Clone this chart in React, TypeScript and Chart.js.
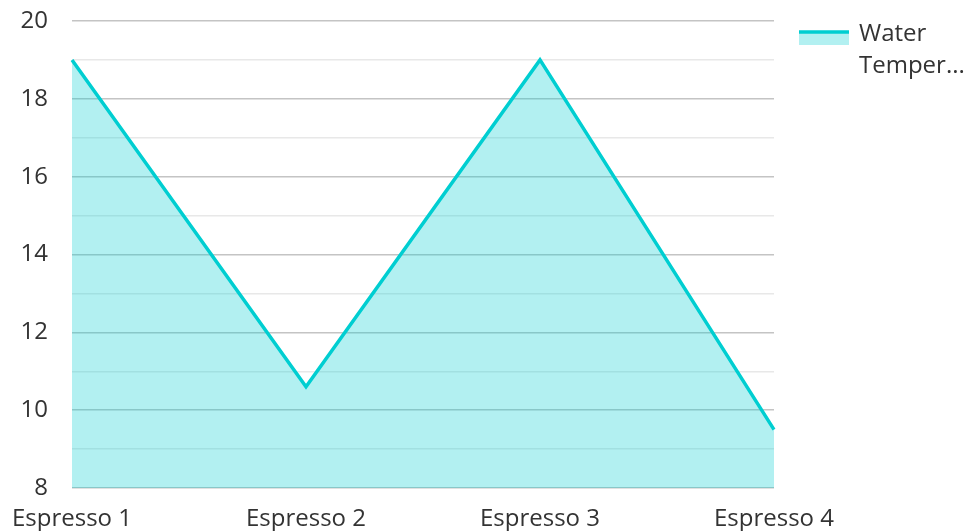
import React, { useEffect, useRef } from "react";
import { Chart, registerables } from "chart.js";

Chart.register(...registerables);

const categories = ["Espresso 1", "Espresso 2", "Espresso 3", "Espresso 4"];
const waterTemperature = [19, 10.6, 19, 9.5];
const seriesName = "Water Temperature";
const legendLines = ["Water", "Temper..."];

const LINE = "#00CED1";
const FILL = "rgba(0,206,209,0.3)";
const TEXT = "#333333";
const FONT = "'Open Sans', 'Noto Sans', sans-serif";

const legendPlugin = {
  id: "customLegend",
  afterDraw(chart: any) {
    const ctx = chart.ctx;
    ctx.save();
    ctx.fillStyle = FILL;
    ctx.fillRect(799, 31, 50, 14);
    ctx.strokeStyle = LINE;
    ctx.lineWidth = 3.5;
    ctx.beginPath();
    ctx.moveTo(799, 32);
    ctx.lineTo(849, 32);
    ctx.stroke();
    ctx.fillStyle = TEXT;
    ctx.font = `24px ${FONT}`;
    ctx.textBaseline = "alphabetic";
    ctx.textAlign = "left";
    ctx.fillText(legendLines[0], 859, 41);
    ctx.fillText(legendLines[1], 859, 73);
    ctx.restore();
  },
};

export default function App() {
  const ref = useRef<HTMLCanvasElement>(null);
  useEffect(() => {
    document.body.style.margin = "0";
    const chart = new Chart(ref.current!, {
      type: "line",
      data: {
        labels: categories,
        datasets: [
          {
            label: seriesName,
            data: waterTemperature,
            borderColor: LINE,
            backgroundColor: FILL,
            borderWidth: 3.5,
            fill: "start",
            pointRadius: 0,
            tension: 0,
          },
        ],
      },
      options: {
        animation: false,
        responsive: false,
        layout: { padding: { top: 21, right: 190, left: 0, bottom: 0 } },
        plugins: { legend: { display: false }, tooltip: { enabled: false } },
        scales: {
          x: {
            offset: false,
            grid: { display: false },
            border: { display: false },
            ticks: {
              color: TEXT,
              font: { family: FONT, size: 24 },
              padding: 9,
              maxRotation: 0,
              autoSkip: false,
            },
            afterFit(scale: any) {
              scale.height = 43;
              scale.paddingLeft = 0;
              scale.paddingRight = 0;
            },
          },
          y: {
            min: 8,
            max: 20,
            border: { display: false },
            grid: {
              drawTicks: false,
              lineWidth: 1.5,
              color: (c: any) =>
                c.tick && c.tick.value % 2 !== 0 ? "#e8e8e8" : "#c4c4c4",
            },
            ticks: {
              stepSize: 1,
              color: TEXT,
              font: { family: FONT, size: 24 },
              padding: 24,
              callback: (v: any) => (Number(v) % 2 === 0 ? String(v) : ""),
            },
            afterFit(scale: any) {
              scale.width = 72;
              scale.paddingTop = 0;
              scale.paddingBottom = 0;
            },
          },
        },
      },
      plugins: [legendPlugin],
    });
    return () => chart.destroy();
  }, []);
  return (
    <div style={{ position: "fixed", left: 0, top: 0, width: 964, height: 531 }}>
      <canvas ref={ref} width={964} height={531} style={{ width: 964, height: 531 }} />
    </div>
  );
}
